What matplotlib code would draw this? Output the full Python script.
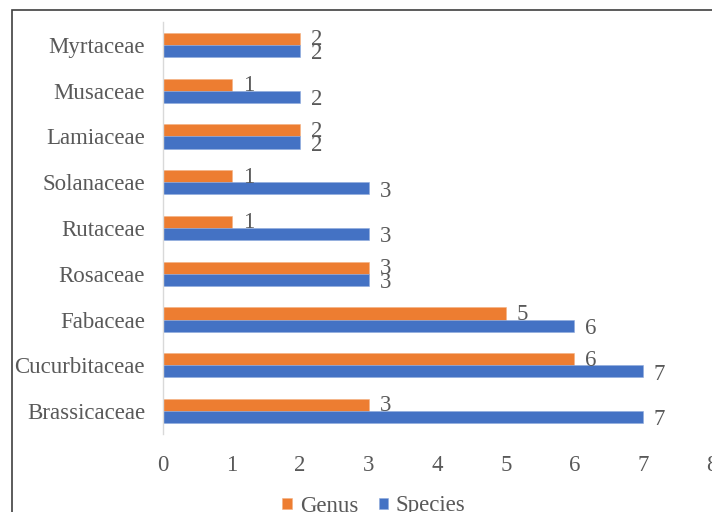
import matplotlib.pyplot as plt
import numpy as np
from matplotlib.patches import Rectangle

# Plant families (bottom to top) and counts
families = ["Brassicaceae", "Cucurbitaceae", "Fabaceae", "Rosaceae", "Rutaceae",
            "Solanaceae", "Lamiaceae", "Musaceae", "Myrtaceae"]
genus = [3, 6, 5, 3, 1, 1, 2, 1, 2]
species = [7, 7, 6, 3, 3, 3, 2, 2, 2]
x_ticks = [0, 1, 2, 3, 4, 5, 6, 7, 8]

ORANGE = "#ED7D31"
BLUE = "#4472C4"
TEXT = "#595959"

plt.rcParams["font.family"] = ["Liberation Serif", "DejaVu Serif"]

fig = plt.figure(figsize=(7.12, 5.12), dpi=100)
ax = fig.add_axes([163 / 712, 1 - 434 / 512, 548.6 / 712, (434 - 22) / 512])

y = np.arange(len(families))
h = 0.265
ax.barh(y + h / 2, genus, height=h, color=ORANGE, label="Genus",
        edgecolor="#F4B183", linewidth=0.4)
ax.barh(y - h / 2, species, height=h, color=BLUE, label="Species",
        edgecolor="#8FAADC", linewidth=0.4)

for yi, g, s in zip(y, genus, species):
    ax.text(g + 0.16, yi + h / 2 - 0.02, str(g), ha="left", va="center",
            fontsize=16.5, color=TEXT)
    ax.text(s + 0.16, yi - h / 2 - 0.06, str(s), ha="left", va="center",
            fontsize=16.5, color=TEXT)

ax.set_xlim(0, 8)
ax.set_ylim(-0.5, len(families) - 0.5)
ax.set_xticks(x_ticks)
ax.set_xticklabels([str(t) for t in x_ticks])
ax.set_yticks(y)
ax.set_yticklabels(families)
ax.tick_params(axis="both", length=0, labelsize=16.5, labelcolor=TEXT)
ax.tick_params(axis="y", pad=13)
ax.tick_params(axis="x", pad=15)

for side in ["top", "right", "bottom"]:
    ax.spines[side].set_visible(False)
ax.spines["left"].set_color("#D9D9D9")
ax.spines["left"].set_linewidth(1.0)

# Outer chart border
fig.patches.append(Rectangle((12 / 712, -0.2), 1.2, 1.2 - 10 / 512,
                             transform=fig.transFigure, fill=False,
                             edgecolor="#404040", linewidth=1.2))

leg = fig.legend(loc="center", bbox_to_anchor=(374 / 712, 1 - 506 / 512),
                 ncol=2, frameon=False, fontsize=16.5, handlelength=0.4,
                 handleheight=0.4, handletextpad=0.35, columnspacing=0.9,
                 labelcolor=TEXT)

fig.savefig("out.png", dpi=100)
